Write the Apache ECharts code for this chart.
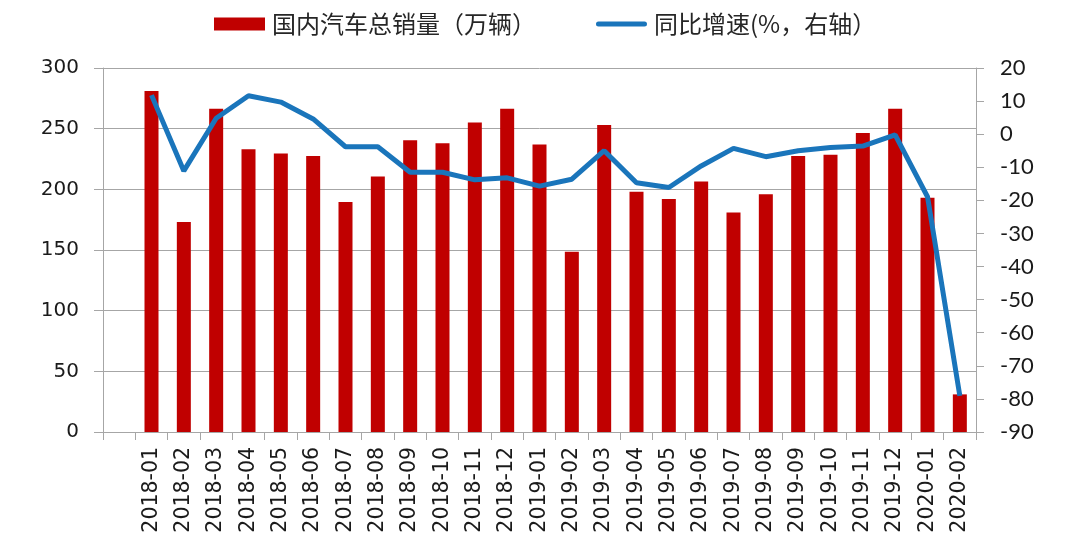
<!DOCTYPE html>
<html>
<head>
<meta charset="utf-8">
<script src="https://cdn.jsdelivr.net/npm/echarts@6/dist/echarts.min.js"></script>
<style>
html,body{margin:0;padding:0;background:#fff;}
#chart{width:1080px;height:545px;}
</style>
</head>
<body>
<div id="chart"></div>
<script>
var categories = ['', '2018-01','2018-02','2018-03','2018-04','2018-05','2018-06','2018-07','2018-08','2018-09','2018-10','2018-11','2018-12',
  '2019-01','2019-02','2019-03','2019-04','2019-05','2019-06','2019-07','2019-08','2019-09','2019-10','2019-11','2019-12',
  '2020-01','2020-02'];
var salesValues = ['-', 281, 173, 266.5, 233, 229.5, 227.5, 189.5, 210.5, 240.5, 238, 255, 266.5,
  237, 148.5, 253, 198, 192, 206.5, 181, 196, 227.5, 228.5, 246.5, 266.5,
  193, 31];
var growthValues = ['-', 11.8, -11.1, 4.8, 11.6, 9.7, 4.6, -3.8, -3.8, -11.5, -11.5, -13.8, -13.2,
  -15.7, -13.6, -5.0, -14.7, -16.1, -9.6, -4.3, -6.8, -5.0, -4.0, -3.6, -0.2,
  -18.9, -79.1];
var leftTicks = {min: 0, max: 300, interval: 50};
var rightTicks = {min: -90, max: 20, interval: 10};
var seriesNames = ['国内汽车总销量（万辆）', '同比增速(%，右轴）'];

var gray = '#a6a6a6';
var blue = '#1a75bb';
var chart = echarts.init(document.getElementById('chart'));
chart.setOption({
  animation: false,
  backgroundColor: '#fff',
  legend: {
    left: 209, top: 7,
    itemWidth: 51, itemHeight: 13, itemGap: 60,
    symbolKeepAspect: true,
    textStyle: {fontFamily: 'Noto Sans CJK SC', fontSize: 24, color: '#262626', padding: [0, 0, 0, 2]},
    data: [
      {name: seriesNames[0], icon: 'rect'},
      {name: seriesNames[1], icon: 'path://M2.5,0H48.5A2.5,2.5 0 0 1 48.5,5H2.5A2.5,2.5 0 0 1 2.5,0Z', itemStyle: {color: blue}}
    ]
  },
  grid: {left: 103, right: 104, top: 68, bottom: 113, containLabel: false},
  xAxis: {
    type: 'category',
    data: categories,
    boundaryGap: true,
    axisLine: {lineStyle: {color: gray, width: 1}},
    axisTick: {show: true, interval: 0, length: 8, lineStyle: {color: gray}},
    axisLabel: {interval: 0, rotate: 90, margin: 15, fontFamily: 'DejaVu Sans', fontSize: 20.5, color: '#1a1a1a'}
  },
  yAxis: [
    {
      type: 'value', position: 'left',
      min: leftTicks.min, max: leftTicks.max, interval: leftTicks.interval,
      axisLine: {show: true, lineStyle: {color: gray}},
      axisTick: {show: true, length: 9, lineStyle: {color: gray}},
      splitLine: {show: true, lineStyle: {color: gray, width: 1}},
      axisLabel: {margin: 24, fontFamily: 'DejaVu Sans', fontSize: 20, color: '#1a1a1a'}
    },
    {
      type: 'value', position: 'right',
      min: rightTicks.min, max: rightTicks.max, interval: rightTicks.interval,
      axisLine: {show: true, lineStyle: {color: gray}},
      axisTick: {show: true, length: 8, lineStyle: {color: gray}},
      splitLine: {show: false},
      axisLabel: {margin: 24, fontFamily: 'Lato', fontSize: 22, color: '#1a1a1a'}
    }
  ],
  series: [
    {
      name: seriesNames[0], type: 'bar', yAxisIndex: 0,
      data: salesValues, barWidth: 14,
      itemStyle: {color: '#c00000'}
    },
    {
      name: seriesNames[1], type: 'line', yAxisIndex: 1,
      data: growthValues, symbol: 'none', connectNulls: false,
      lineStyle: {color: blue, width: 5},
      itemStyle: {color: blue}
    }
  ]
});
</script>
</body>
</html>
